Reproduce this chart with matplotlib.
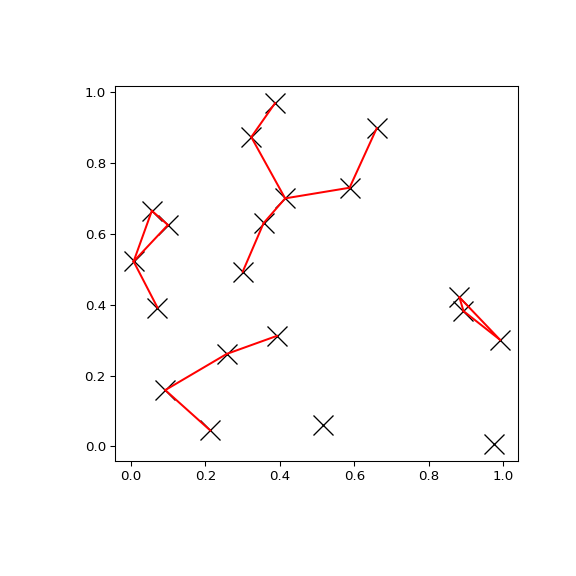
import matplotlib
matplotlib.use("Agg")
import matplotlib.pyplot as plt

# point coordinates
xs = [0.387, 0.323, 0.414, 0.356, 0.300, 0.587, 0.660, 0.056, 0.099, 0.007,
      0.071, 0.257, 0.392, 0.092, 0.213, 0.515, 0.882, 0.893, 0.991, 0.975]
ys = [0.969, 0.873, 0.700, 0.630, 0.493, 0.730, 0.898, 0.665, 0.625, 0.522,
      0.392, 0.261, 0.312, 0.159, 0.045, 0.061, 0.421, 0.382, 0.301, 0.007]

# edges as index pairs into xs/ys
edges = [(0, 1), (1, 2), (2, 3), (3, 4), (2, 5), (5, 6),
         (7, 8), (7, 9), (9, 8), (9, 10),
         (13, 11), (11, 12), (13, 14),
         (16, 17), (16, 18), (17, 18)]

fig = plt.figure(figsize=(6, 6), dpi=96)
ax = fig.add_axes([115.3 / 576, (576 - 461) / 576, 403 / 576, 375 / 576])
ax.plot(xs, ys, "kx", markersize=15, markeredgewidth=1.0, linestyle="none")
for i, j in edges:
    ax.plot([xs[i], xs[j]], [ys[i], ys[j]], color="red", lw=1.5)
fig.savefig("out.png", dpi=96)
